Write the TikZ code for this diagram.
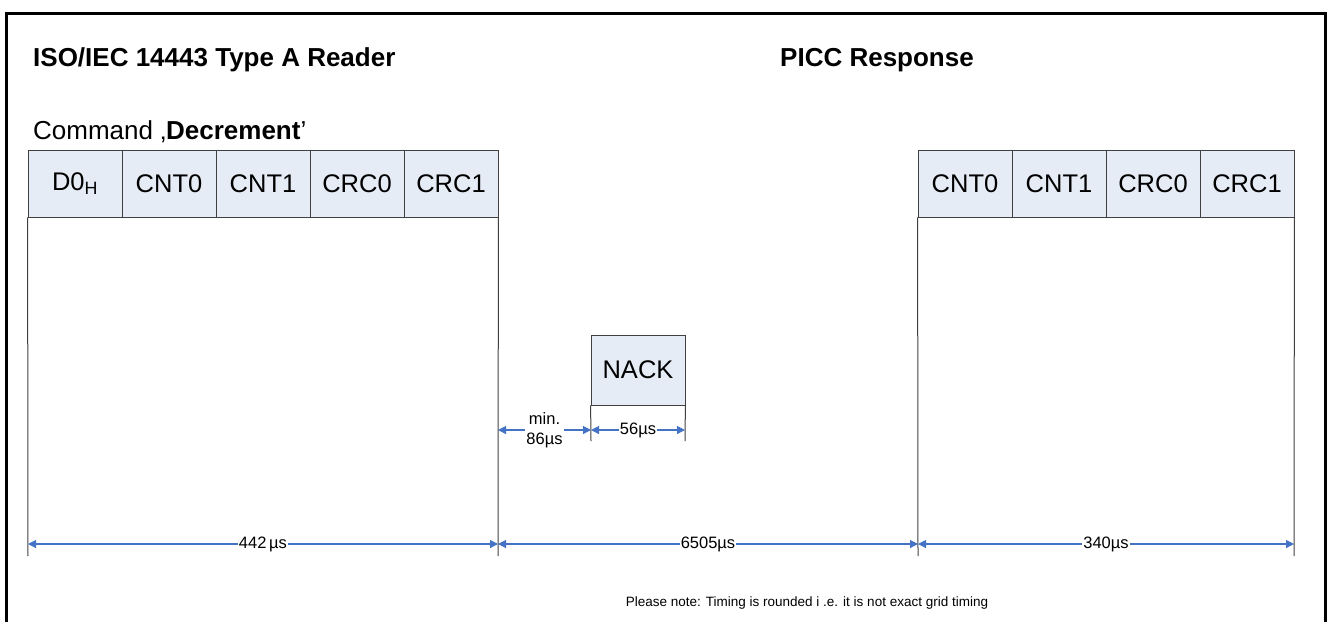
\documentclass[tikz,border=0pt]{standalone}
\usepackage{fontspec}
\setmainfont{Liberation Sans}
\usetikzlibrary{positioning}
\usetikzlibrary{arrows.meta}
\definecolor{cellfill}{HTML}{E6ECF6}
\definecolor{dimblue}{HTML}{4472C4}
\tikzset{
	field/.style = {rectangle, draw=black!75, fill=cellfill, line width=0.8pt, minimum width=94pt, minimum height=67pt, inner sep=0pt, font=\fontsize{25.5}{30}\selectfont},
	guide/.style = {draw=black!75, line width=1pt},
	dim/.style = {{Triangle[length=8pt,width=8pt]}-{Triangle[length=8pt,width=8pt]}, dimblue, line width=1.1pt},
	dimlbl/.style = {fill=white, text=black, inner sep=1pt, font=\fontsize{16.5}{20}\selectfont, align=center},
	head/.style = {anchor=base west, inner sep=0pt, font=\fontsize{26}{30}\selectfont}
}

\begin{document}
\begin{tikzpicture}[x=1pt, y=-1pt]
	\useasboundingbox (0,0) rectangle (1331,622);
	% frame
	\draw[line width=3pt] (6.5,622) -- (6.5,13) -- (1325.5,13) -- (1325.5,622);
	
	% Title
	\node[head] (reader) at (33,66) {\bfseries ISO/IEC 14443 Type A Reader};
	\node[head] (picc) at (780,66) {\bfseries PICC Response};
	\node[head] (cmd) at (33,139) {Command ‚\textbf{Decrement}’};
	
	% reader frame
	\node[field] (r1) at (75,183.5) {D0\textsubscript{H}};
	\node[field] (r2) at (169,183.5) {CNT0};
	\node[field] (r3) at (263,183.5) {CNT1};
	\node[field] (r4) at (357,183.5) {CRC0};
	\node[field] (r5) at (451,183.5) {CRC1};
	
	% picc frames
	\node[field, minimum height=70pt] (nack) at (638,370) {NACK};
	\node[field] (p1) at (965,183.5) {CNT0};
	\node[field] (p2) at (1059,183.5) {CNT1};
	\node[field] (p3) at (1153,183.5) {CRC0};
	\node[field] (p4) at (1247,183.5) {CRC1};
	
	\coordinate (g1) at (28,556);
	\coordinate (g2) at (498,556);
	\coordinate (g3) at (918,556);
	\coordinate (g4) at (1294,556);
	\coordinate (g5) at (591,441);
	\coordinate (g6) at (685,441);
	
	\path[guide] (r1.south west) edge (g1);
	\path[guide] (r5.south east) edge (g2);
	\path[guide] (p1.south west) edge (g3);
	\path[guide] (p4.south east) edge (g4);
	\path[guide] (nack.south west) edge (g5);
	\path[guide] (nack.south east) edge (g6);
	
	% timing
	\coordinate (t1) at (28,544);
	\coordinate (t2) at (498,544);
	\coordinate (t3) at (918,544);
	\coordinate (t4) at (1294,544);
	\coordinate (s1) at (498,430);
	\coordinate (s2) at (591,430);
	\coordinate (s3) at (685,430);
	
	\draw[dim] (t1) -- node[dimlbl] {442\,µs} (t2);
	\draw[dim] (t2) -- node[dimlbl] {6505µs} (t3);
	\draw[dim] (t3) -- node[dimlbl] {340µs} (t4);
	\draw[dim] (s1) -- node[dimlbl] {min.\\86µs} (s2);
	\draw[dim] (s2) -- node[dimlbl] {56µs} (s3);
	
	\node[dimlbl, fill=none, font=\fontsize{13.5}{16}\selectfont] (note) at (807,603) {Please note: Timing is rounded i .e. it is not exact grid timing};
\end{tikzpicture}
\end{document}
